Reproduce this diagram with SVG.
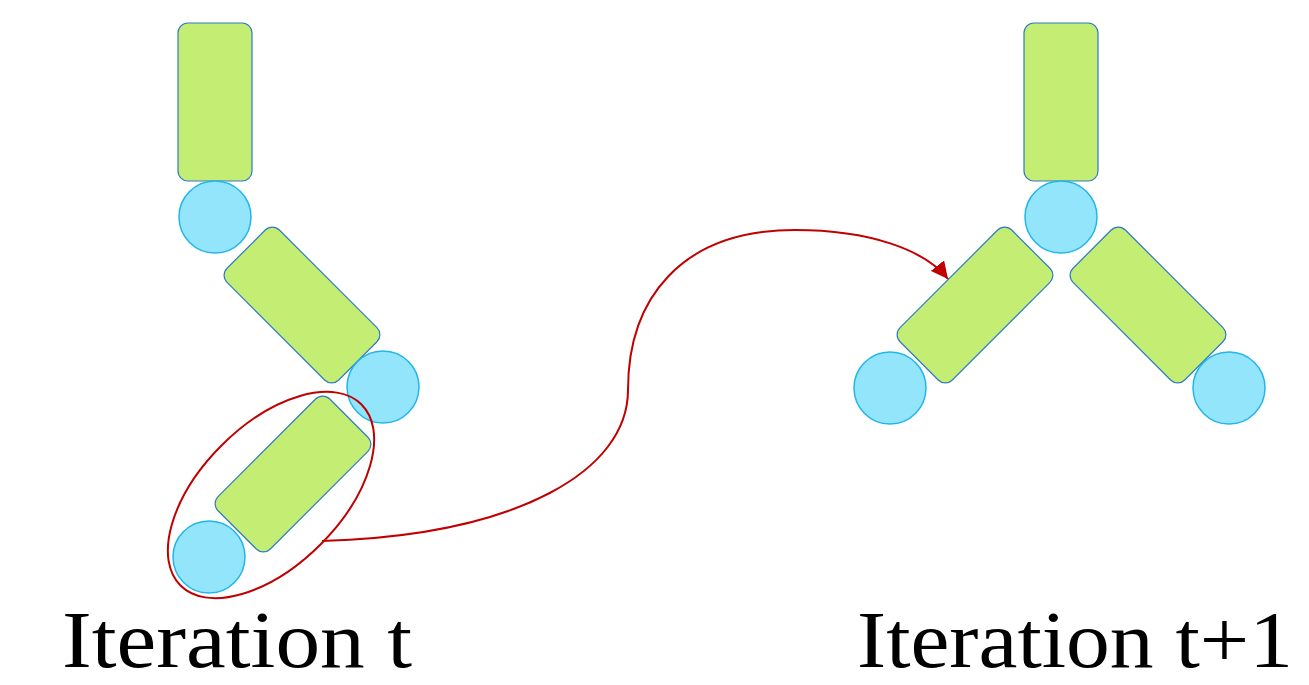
<svg xmlns="http://www.w3.org/2000/svg" width="1309" height="685" viewBox="0 0 1309 685">
<style>
.seg{fill:#C3EE73;stroke:#2E7BC4;stroke-width:1.2}
.joint{fill:#92E5FA;stroke:#22B5EA;stroke-width:1.5}
.lbl{font-family:"Liberation Serif","DejaVu Serif",serif;font-size:80px;fill:#000}
.red{fill:none;stroke:#C00000;stroke-width:2}
</style>
<defs>
<marker id="arr" viewBox="0 0 10 10" refX="10" refY="5" markerWidth="17" markerHeight="17" markerUnits="userSpaceOnUse" orient="auto">
<path d="M0,0 L10,5 L0,10 Z" fill="#C00000"/>
</marker>
</defs>
<rect width="1309" height="685" fill="#fff"/>
<g id="left-figure">
<g id="L-seg1"><rect class="seg" x="178" y="23" width="74" height="158" rx="10"/></g>
<g id="L-joint1"><circle class="joint" cx="215" cy="217" r="36"/></g>
<g id="L-seg2"><rect class="seg" x="-37" y="-79" width="74" height="158" rx="10" transform="translate(302,305) rotate(-45)"/></g>
<g id="L-joint2"><circle class="joint" cx="383" cy="387" r="36"/></g>
<g id="L-seg3"><rect class="seg" x="-37" y="-79" width="74" height="158" rx="10" transform="translate(293,474) rotate(45)"/></g>
<g id="L-joint3"><circle class="joint" cx="209" cy="557" r="36"/></g>
<g id="L-highlight"><ellipse class="red" cx="271" cy="495" rx="128" ry="70" transform="rotate(-45 271 495)"/></g>
</g>
<g id="right-figure">
<g id="R-seg1"><rect class="seg" x="1024" y="23" width="74" height="158" rx="10"/></g>
<g id="R-joint1"><circle class="joint" cx="1061" cy="217" r="36"/></g>
<g id="R-seg2"><rect class="seg" x="-37" y="-79" width="74" height="158" rx="10" transform="translate(975,305) rotate(45)"/></g>
<g id="R-seg3"><rect class="seg" x="-37" y="-79" width="74" height="158" rx="10" transform="translate(1148,305) rotate(-45)"/></g>
<g id="R-joint2"><circle class="joint" cx="890" cy="388" r="36"/></g>
<g id="R-joint3"><circle class="joint" cx="1229" cy="388" r="36"/></g>
</g>
<g id="connectors">
<path class="red" d="M322,541 C520,535 628,470 628,390 C628,300 680,230 795,230 C870,230 925,250 948,279" marker-end="url(#arr)"/>
</g>
<g id="labels">
<text class="lbl" x="62" y="667" textLength="350" lengthAdjust="spacingAndGlyphs">Iteration t</text>
<text class="lbl" x="857" y="667" textLength="436" lengthAdjust="spacingAndGlyphs">Iteration t+1</text>
</g>
</svg>
